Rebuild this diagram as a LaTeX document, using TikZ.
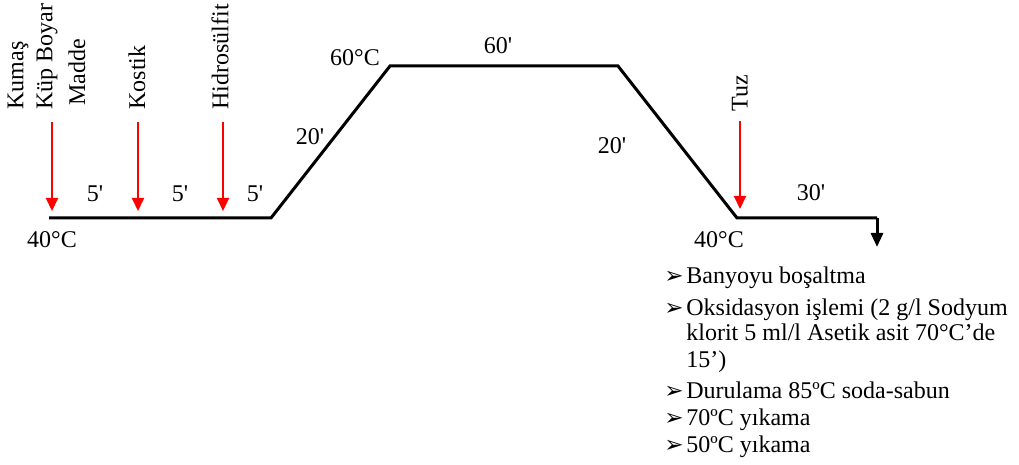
\documentclass[tikz,border=0pt]{standalone}
\usepackage{fontspec}
\setmainfont{Liberation Serif}[Ligatures=TeXOff]
\newfontfamily\symfont{DejaVu Sans}
\usetikzlibrary{arrows.meta}
\begin{document}
\begin{tikzpicture}[x=0.5pt,y=-0.5pt,
  every node/.style={font=\fontsize{12}{14}\selectfont, inner sep=0pt},
  profile/.style={line width=1.5pt, line join=miter},
  addarrow/.style={red, line width=1pt, -{Triangle[width=6pt,length=6.5pt]}},
  endarrow/.style={line width=1.5pt, -{Triangle[width=6pt,length=7pt]}},
  vlabel/.style={rotate=90, anchor=west},
  tlabel/.style={anchor=center},
  item/.style={anchor=base west},
  bul/.style={anchor=base west, font=\symfont\bfseries\fontsize{11.5}{14}\selectfont}]
\useasboundingbox (0,0) rectangle (1019,465);
% profile
\coordinate (p0) at (49,218);
\coordinate (p1) at (271,218);
\coordinate (p2) at (390,66);
\coordinate (p3) at (618,66);
\coordinate (p4) at (737,218);
\coordinate (p5) at (877,218);
\coordinate (p6) at (877,247);
\draw[profile] (p0) -- (p1) -- (p2) -- (p3) -- (p4) -- (p5);
\draw[endarrow] (p5) -- (p6);
% additions
\coordinate (a1s) at (52,122); \coordinate (a1e) at (52,211);
\coordinate (a2s) at (138,122); \coordinate (a2e) at (138,211);
\coordinate (a3s) at (223,122); \coordinate (a3e) at (223,211);
\coordinate (a4s) at (740,121); \coordinate (a4e) at (740,209);
\draw[addarrow] (a1s) -- (a1e);
\draw[addarrow] (a2s) -- (a2e);
\draw[addarrow] (a3s) -- (a3e);
\draw[addarrow] (a4s) -- (a4e);
% vertical labels
\node[vlabel] (kumas) at (18,110) {Kumaş};
\node[vlabel] (kup) at (47,110) {Küp Boyar};
\node[vlabel] (madde) at (77,106) {Madde};
\node[vlabel] (kostik) at (137,110) {Kostik};
\node[vlabel] (hidro) at (220,110) {Hidrosülfit};
\node[vlabel] (tuz) at (740,112) {Tuz};
% times and temperatures
\node[tlabel] (t1) at (95,194) {5'};
\node[tlabel] (t2) at (180,194) {5'};
\node[tlabel] (t3) at (255,194) {5'};
\node[tlabel] (T40a) at (52,240) {40°C};
\node[tlabel] (t4) at (310,137) {20'};
\node[tlabel] (T60) at (355,58) {60°C};
\node[tlabel] (t5) at (498,46) {60'};
\node[tlabel] (t6) at (612,146) {20'};
\node[tlabel] (T40b) at (719,240) {40°C};
\node[tlabel] (t7) at (811,193) {30'};
% list
\node[bul] (b1) at (664,284) {➢};
\node[item] (i1) at (686,284) {Banyoyu boşaltma};
\node[bul] (b2) at (664,315) {➢};
\node[item] (i2a) at (686,315) {Oksidasyon işlemi (2 g/l Sodyum};
\node[item] (i2b) at (686,341) {klorit 5 ml/l Asetik asit 70°C’de};
\node[item] (i2c) at (686,367) {15’)};
\node[bul] (b3) at (664,398) {➢};
\node[item] (i3) at (686,398) {Durulama 85ºC soda-sabun};
\node[bul] (b4) at (664,425) {➢};
\node[item] (i4) at (686,425) {70ºC yıkama};
\node[bul] (b5) at (664,452) {➢};
\node[item] (i5) at (686,452) {50ºC yıkama};
\end{tikzpicture}
\end{document}
